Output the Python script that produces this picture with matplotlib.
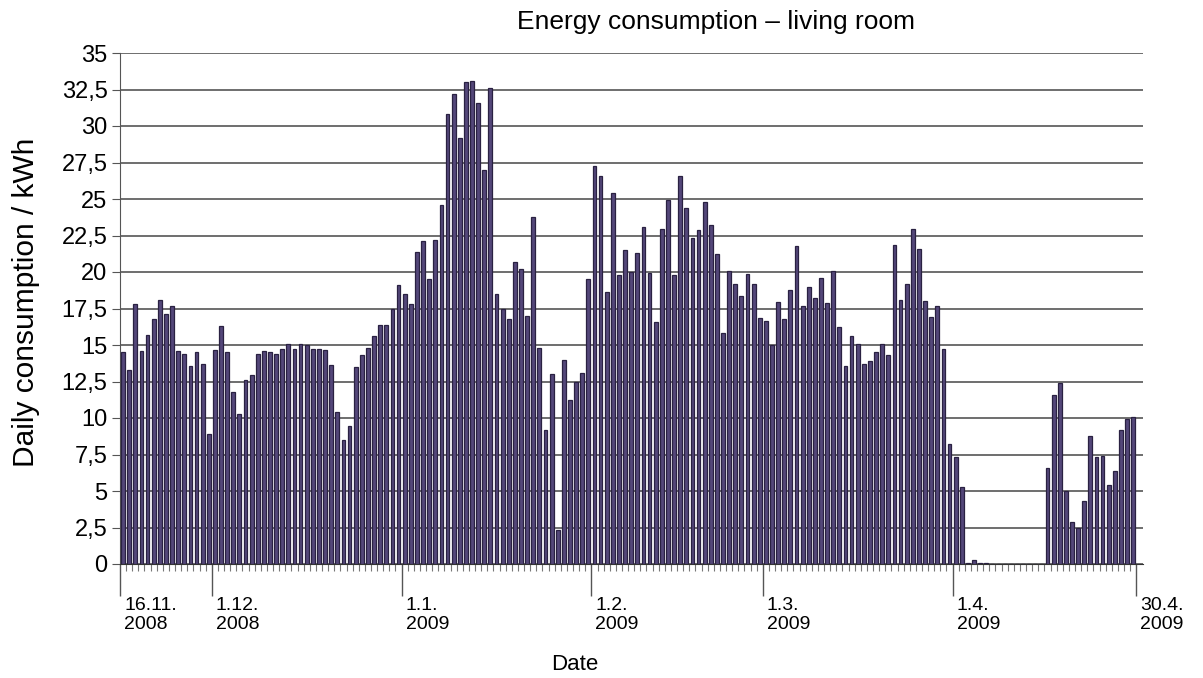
import numpy as np
import matplotlib.pyplot as plt
from matplotlib.ticker import FixedLocator, FuncFormatter
import matplotlib.transforms as mtransforms

plt.rcParams['font.family'] = ['Liberation Sans', 'DejaVu Sans']

# daily consumption in kWh, 16.11.2008 .. 30.4.2009
consumption = [
    14.5, 13.3, 17.8, 14.6, 15.7, 16.8, 18.1, 17.1, 17.7, 14.6,
    14.35, 13.55, 14.55, 13.7, 8.9,
    14.65, 16.3, 14.5, 11.8, 10.3, 12.6, 12.95, 14.4, 14.6, 14.5,
    14.35, 14.7, 15.1, 14.7, 15.1, 15.0, 14.75, 14.75, 14.65, 13.65,
    10.4, 8.5, 9.45, 13.5, 14.3, 14.8, 15.6, 16.4, 16.4, 17.45, 19.1,
    18.5, 17.8, 21.4, 22.1, 19.55, 22.2, 24.6, 30.8, 32.2, 29.2,
    33.0, 33.1, 31.6, 27.0, 32.6, 18.5, 17.5, 16.8, 20.7, 20.2,
    17.0, 23.8, 14.8, 9.2, 13.0, 2.3, 14.0, 11.2, 12.5, 13.1,
    19.55, 27.25, 26.6, 18.6, 25.4, 19.8, 21.5, 20.0, 21.3, 23.1,
    19.9, 16.6, 22.95, 24.9, 19.8, 26.6, 24.4, 22.3, 22.9, 24.8,
    23.2, 21.2, 15.85, 20.05, 19.15, 18.35, 19.85, 19.15, 16.85, 16.65,
    15.0, 17.95, 16.8, 18.75, 21.75, 17.7, 19.0, 18.25, 19.6, 17.9,
    20.05, 16.25, 13.55, 15.65, 15.05, 13.7, 13.9, 14.5, 15.1, 14.3,
    21.85, 18.1, 19.2, 22.95, 21.55, 18.0, 16.9, 17.65, 14.7, 8.2,
    7.3, 5.3, 0.1, 0.25, 0.1, 0.05, 0.0, 0.0, 0.0, 0.0,
    0.0, 0.0, 0.0, 0.0, 0.0, 6.6, 11.55, 12.4, 5.0, 2.9,
    2.5, 4.3, 8.8, 7.35, 7.4, 5.4, 6.4, 9.2, 9.95, 10.1,
]

start_date = np.datetime64('2008-11-16')
tick_dates = ['2008-11-16', '2008-12-01', '2009-01-01', '2009-02-01',
              '2009-03-01', '2009-04-01', '2009-04-30']
tick_labels = ['16.11.\n2008', '1.12.\n2008', '1.1.\n2009', '1.2.\n2009',
               '1.3.\n2009', '1.4.\n2009', '30.4.\n2009']
y_ticks = np.arange(0, 35.1, 2.5)

days = np.arange(len(consumption))
tick_pos = [(np.datetime64(d) - start_date).astype(int) - 0.5 for d in tick_dates]
tick_pos[-1] += 1.0  # last tick closes the final day

fig = plt.figure(figsize=(12.03, 6.78), dpi=100)
ax = fig.add_axes([120 / 1203, 1 - 564 / 678, (1143 - 120) / 1203, (564 - 53) / 678])

ax.set_axisbelow(True)
ax.yaxis.grid(True, color='#555555', linewidth=1.2)
ax.bar(days, consumption, width=0.62, color='#54477a', edgecolor='#2a2142',
       linewidth=0.9, zorder=3)

ax.set_xlim(-0.5, len(consumption) + 0.6)
ax.set_ylim(0, 35)
ax.set_yticks(y_ticks)
ax.yaxis.set_major_formatter(FuncFormatter(
    lambda v, p: ('%g' % v).replace('.', ',')))
ax.tick_params(axis='y', labelsize=17, length=6, color='#555555', pad=3)

ax.xaxis.set_major_locator(FixedLocator(tick_pos))
ax.xaxis.set_minor_locator(FixedLocator(np.arange(-0.5, len(consumption), 1.0)))
ax.set_xticklabels([])
ax.tick_params(axis='x', which='major', length=23, color='#555555', width=1.0)
ax.tick_params(axis='x', which='minor', length=5, color='#777777', width=0.8)

for s in ['top', 'right']:
    ax.spines[s].set_visible(False)
ax.spines['left'].set_color('#555555')
ax.spines['bottom'].set_color('#333333')

offset = mtransforms.ScaledTranslation(4 / 100, 0, fig.dpi_scale_trans)
trans = mtransforms.blended_transform_factory(ax.transData, ax.transAxes) + offset
for pos, lab in zip(tick_pos, tick_labels):
    ax.text(pos, -0.065, lab, transform=trans, ha='left', va='top',
            fontsize=14, linespacing=1.15)

fig.text(716 / 1203, 1 - 22 / 678, 'Energy consumption \u2013 living room',
         ha='center', va='center', fontsize=19)
fig.text(26 / 1203, 1 - 302 / 678, 'Daily consumption / kWh', rotation=90,
         ha='center', va='center', fontsize=21.5)
fig.text(575 / 1203, 1 - 664 / 678, 'Date', ha='center', va='center', fontsize=16)

fig.savefig('out.png', dpi=100)
